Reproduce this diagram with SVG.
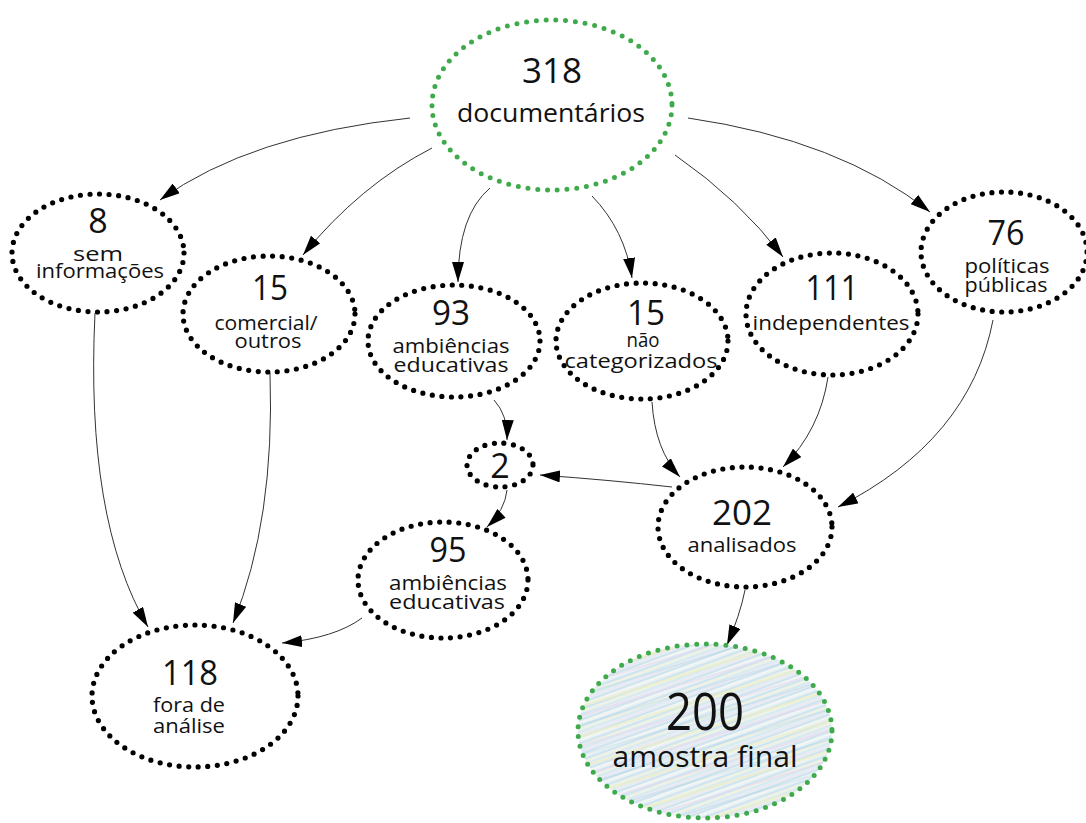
<svg xmlns="http://www.w3.org/2000/svg" width="1086" height="823" viewBox="0 0 1086 823">
  <defs>
    <marker id="arrow" viewBox="0 0 20 12" refX="20" refY="6" markerWidth="20" markerHeight="12" markerUnits="userSpaceOnUse" orient="auto">
      <path d="M0,0 L20,6 L0,12 Z" fill="#000"/>
    </marker>
    <!-- colored pencil hatching for the final sample -->
    <pattern id="pencil" width="60" height="16" patternUnits="userSpaceOnUse" patternTransform="rotate(-20)">
      <rect width="60" height="16" fill="#e6f1f5"/>
      <line x1="0" y1="1" x2="60" y2="1" stroke="#b9d8e8" stroke-width="1.2"/>
      <line x1="0" y1="3.5" x2="60" y2="3.5" stroke="#f3f3dc" stroke-width="1.3"/>
      <line x1="0" y1="6" x2="60" y2="6" stroke="#c9e1ee" stroke-width="1"/>
      <line x1="0" y1="8.5" x2="60" y2="8.5" stroke="#eee4f1" stroke-width="1.2"/>
      <line x1="0" y1="11" x2="60" y2="11" stroke="#b3d3e6" stroke-width="0.9"/>
      <line x1="0" y1="13.5" x2="60" y2="13.5" stroke="#f7f8f2" stroke-width="1.4"/>
    </pattern>
    <pattern id="pencil2" width="110" height="29" patternUnits="userSpaceOnUse" patternTransform="rotate(-17)">
      <line x1="0" y1="4" x2="110" y2="4" stroke="#ecefc4" stroke-width="2.5" opacity="0.7"/>
      <line x1="0" y1="13" x2="110" y2="13" stroke="#e5d8ee" stroke-width="2" opacity="0.6"/>
      <line x1="0" y1="22" x2="110" y2="22" stroke="#9fc7dd" stroke-width="1" opacity="0.5"/>
    </pattern>
  </defs>
  <style>
    .dots { fill: none; stroke: #000; stroke-width: 5.2; stroke-linecap: round; stroke-dasharray: 0 9.6; }
    .green { fill: none; stroke: #3faa4c; stroke-width: 5; stroke-linecap: round; stroke-dasharray: 0 9.8; }
    .edge { fill: none; stroke: #333; stroke-width: 1; marker-end: url(#arrow); }
    text { font-family: "Open Sans", "Noto Sans", "Liberation Sans", sans-serif; fill: #111; text-anchor: middle; }
    .num { font-size: 34px; }
    .lbl { font-size: 20px; }
  </style>

  <rect width="1086" height="823" fill="#fff"/>

  <g id="connectors">
    <path class="edge" d="M410,118 Q250,135 160,200"/>
    <path class="edge" d="M432,148 Q360,185 303,255"/>
    <path class="edge" d="M490,188 Q458,215 458,282"/>
    <path class="edge" d="M592,196 Q625,230 632,278"/>
    <path class="edge" d="M675,155 Q740,200 783,257"/>
    <path class="edge" d="M688,118 Q840,140 930,212"/>
    <path class="edge" d="M95,313 Q85,520 148,627"/>
    <path class="edge" d="M270,373 Q275,520 233,623"/>
    <path class="edge" d="M494,400 Q508,415 507,440"/>
    <path class="edge" d="M507,490 Q505,510 487,527"/>
    <path class="edge" d="M362,618 Q335,638 282,643"/>
    <path class="edge" d="M652,402 Q655,450 680,477"/>
    <path class="edge" d="M828,377 Q820,430 783,467"/>
    <path class="edge" d="M993,320 Q970,440 838,507"/>
    <path class="edge" d="M672,487 Q610,480 540,475"/>
    <path class="edge" d="M745,590 Q740,615 727,645"/>
  </g>

  <g id="n318">
    <ellipse class="green" cx="552" cy="105" rx="120" ry="85"/>
    <text class="num" x="552" y="83" font-size="35" textLength="60" lengthAdjust="spacingAndGlyphs">318</text>
    <text x="551" y="122" font-size="26" textLength="188" lengthAdjust="spacingAndGlyphs">documentários</text>
  </g>

  <g id="n8">
    <ellipse class="dots" cx="98" cy="253" rx="86" ry="59"/>
    <text class="num" x="98" y="233">8</text>
    <text class="lbl" x="98" y="261" textLength="50" lengthAdjust="spacingAndGlyphs">sem</text>
    <text class="lbl" x="100" y="278" textLength="128" lengthAdjust="spacingAndGlyphs">informações</text>
  </g>

  <g id="n15c">
    <ellipse class="dots" cx="269" cy="314" rx="86" ry="58"/>
    <text class="num" x="270" y="300" textLength="36" lengthAdjust="spacingAndGlyphs">15</text>
    <text class="lbl" x="266" y="330" textLength="103" lengthAdjust="spacingAndGlyphs">comercial/</text>
    <text class="lbl" x="268" y="348" textLength="67" lengthAdjust="spacingAndGlyphs">outros</text>
  </g>

  <g id="n93">
    <ellipse class="dots" cx="454" cy="341" rx="86" ry="56"/>
    <text class="num" x="451" y="325" textLength="38" lengthAdjust="spacingAndGlyphs">93</text>
    <text class="lbl" x="451" y="353" textLength="117" lengthAdjust="spacingAndGlyphs">ambiências</text>
    <text class="lbl" x="451" y="372" textLength="115" lengthAdjust="spacingAndGlyphs">educativas</text>
  </g>

  <g id="n15n">
    <ellipse class="dots" cx="642" cy="341" rx="86" ry="58"/>
    <text class="num" x="646" y="325" textLength="38" lengthAdjust="spacingAndGlyphs">15</text>
    <text class="lbl" x="643" y="347" textLength="33" lengthAdjust="spacingAndGlyphs">não</text>
    <text class="lbl" x="641" y="368" textLength="153" lengthAdjust="spacingAndGlyphs">categorizados</text>
  </g>

  <g id="n111">
    <ellipse class="dots" cx="832" cy="314" rx="86" ry="61"/>
    <text class="num" x="832" y="300" textLength="53" lengthAdjust="spacingAndGlyphs">111</text>
    <text class="lbl" x="831" y="330" textLength="157" lengthAdjust="spacingAndGlyphs">independentes</text>
  </g>

  <g id="n76">
    <ellipse class="dots" cx="1004" cy="252" rx="83" ry="60"/>
    <text class="num" x="1006" y="245" textLength="37" lengthAdjust="spacingAndGlyphs">76</text>
    <text class="lbl" x="1007" y="273" textLength="85" lengthAdjust="spacingAndGlyphs">políticas</text>
    <text class="lbl" x="1006" y="292" textLength="83" lengthAdjust="spacingAndGlyphs">públicas</text>
  </g>

  <g id="n2">
    <ellipse class="dots" cx="500" cy="465" rx="33" ry="22"/>
    <text class="num" x="500" y="478">2</text>
  </g>

  <g id="n202">
    <ellipse class="dots" cx="745" cy="527" rx="87" ry="60"/>
    <text class="num" x="742" y="525" textLength="60" lengthAdjust="spacingAndGlyphs">202</text>
    <text class="lbl" x="742" y="552" textLength="109" lengthAdjust="spacingAndGlyphs">analisados</text>
  </g>

  <g id="n95">
    <ellipse class="dots" cx="443" cy="580" rx="85" ry="58"/>
    <text class="num" x="448" y="562" textLength="37" lengthAdjust="spacingAndGlyphs">95</text>
    <text class="lbl" x="448" y="590" textLength="118" lengthAdjust="spacingAndGlyphs">ambiências</text>
    <text class="lbl" x="447" y="609" textLength="116" lengthAdjust="spacingAndGlyphs">educativas</text>
  </g>

  <g id="n118">
    <ellipse class="dots" cx="195" cy="696" rx="103" ry="71"/>
    <text class="num" x="190" y="685" textLength="56" lengthAdjust="spacingAndGlyphs">118</text>
    <text class="lbl" x="189" y="712" textLength="72" lengthAdjust="spacingAndGlyphs">fora de</text>
    <text class="lbl" x="189" y="733" textLength="72" lengthAdjust="spacingAndGlyphs">análise</text>
  </g>

  <g id="n200">
    <ellipse cx="705" cy="731" rx="127" ry="87" fill="url(#pencil)"/>
    <ellipse cx="705" cy="731" rx="127" ry="87" fill="url(#pencil2)"/>
    <ellipse class="green" cx="705" cy="731" rx="127" ry="87"/>
    <text x="705" y="730" font-size="51" textLength="78" lengthAdjust="spacingAndGlyphs">200</text>
    <text x="705" y="767" font-size="30" textLength="185" lengthAdjust="spacingAndGlyphs">amostra final</text>
  </g>
</svg>
